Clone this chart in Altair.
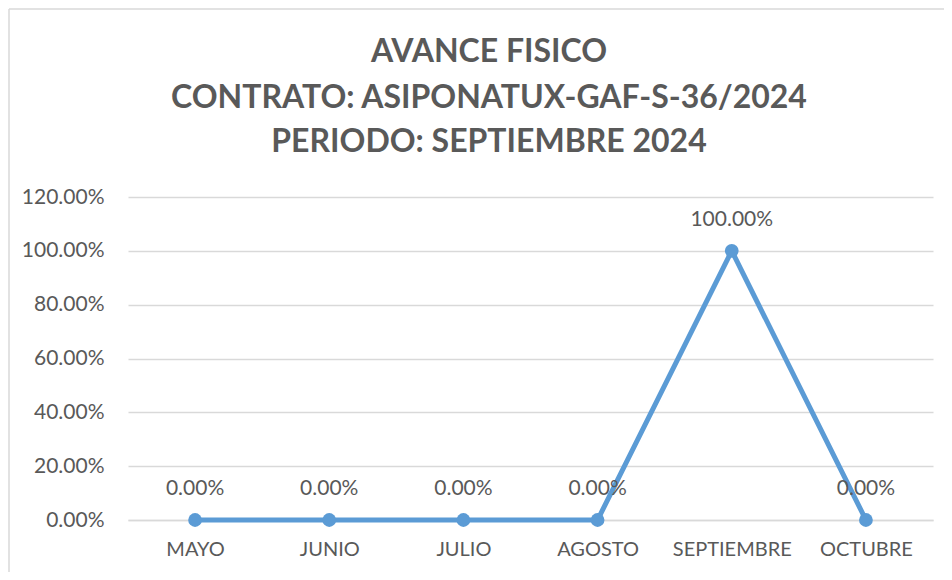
import altair as alt
import pandas as pd

months = ["MAYO", "JUNIO", "JULIO", "AGOSTO", "SEPTIEMBRE", "OCTUBRE"]
avance = [0.0, 0.0, 0.0, 0.0, 1.0, 0.0]
title_lines = ["AVANCE FISICO", "CONTRATO: ASIPONATUX-GAF-S-36/2024", "PERIODO: SEPTIEMBRE 2024"]

df = pd.DataFrame({"mes": months, "avance": avance})

FONT = "Lato"
GRAY = "#595959"
BLUE = "#5B9BD5"

x = alt.X("mes:N", sort=months, title=None,
          scale=alt.Scale(type="point", padding=0.5),
          axis=alt.Axis(labelAngle=0, labelFont=FONT, labelFontSize=20, labelColor=GRAY,
                        labelPadding=19, ticks=False, domain=True, domainColor="#d9d9d9",
                        domainWidth=1.5, grid=False))
y = alt.Y("avance:Q", title=None,
          scale=alt.Scale(domain=[0, 1.2], nice=False, zero=True),
          axis=alt.Axis(format=".2%", values=[0, 0.2, 0.4, 0.6, 0.8, 1.0, 1.2],
                        labelFont=FONT, labelFontSize=21, labelColor=GRAY,
                        labelPadding=24, ticks=False, domain=False,
                        grid=True, gridColor="#d9d9d9", gridWidth=1.5))

base = alt.Chart(df)

line = base.mark_line(color=BLUE, strokeWidth=5).encode(x=x, y=y)
pts = base.mark_point(filled=True, color=BLUE, size=190, opacity=1).encode(x=x, y=y)
labels = base.mark_text(font=FONT, fontSize=21, color=GRAY, dy=-31).encode(
    x=x, y=y, text=alt.Text("avance:Q", format=".2%"))

one = pd.DataFrame({"k": [0]})
border_left = alt.Chart(one).mark_rule(color="#d9d9d9", strokeWidth=1.5).encode(
    x=alt.value(-119), y=alt.value(-188), y2=alt.value(380))
border_top = alt.Chart(one).mark_rule(color="#d9d9d9", strokeWidth=1.5).encode(
    x=alt.value(-119), x2=alt.value(820), y=alt.value(-188))

title_layers = []
for t, yy in zip(title_lines, [-135, -89, -45]):
    title_layers.append(
        alt.Chart(pd.DataFrame({"t": [t]})).mark_text(
            font=FONT, fontSize=32, fontWeight="bold", color=GRAY, baseline="alphabetic"
        ).encode(x=alt.value(361), y=alt.value(yy), text="t:N")
    )

chart = alt.layer(border_left, border_top, line, pts, labels, *title_layers).properties(
    width=805, height=323,
    background="white",
    autosize=alt.AutoSizeParams(type="none"),
    padding={"left": 120, "top": 189, "right": 11, "bottom": 52},
).configure_view(strokeWidth=0, stroke="transparent")

chart.save("out.html", embed_options={"renderer": "svg", "actions": False})
